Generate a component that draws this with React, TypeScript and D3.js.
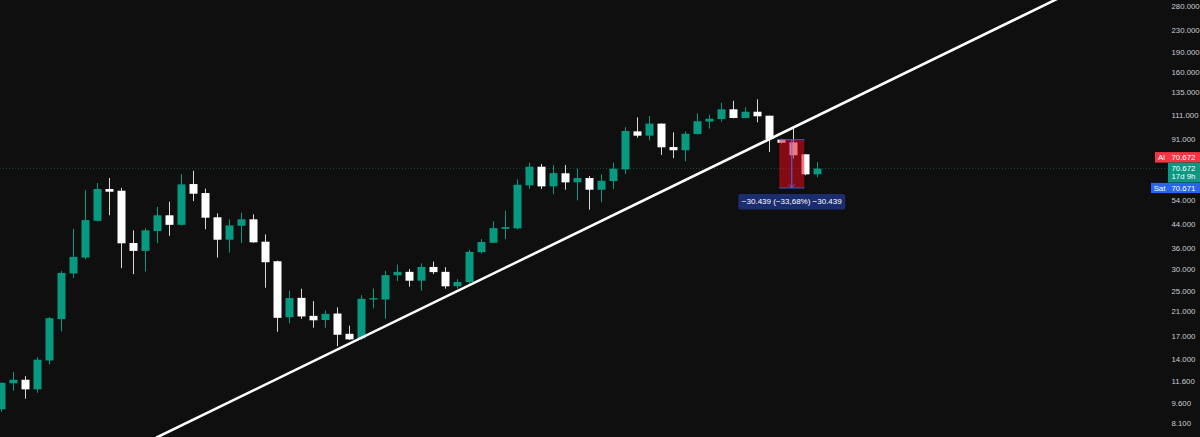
import React from 'react';
import * as d3 from 'd3';

const W = 1200;
const H = 437;

// Monthly candles (values in thousands)
const opens = [
  9.13, 11.38, 11.73, 10.81, 13.82, 19.64, 28.97, 33.16, 45.33, 59.4,
  58.55, 37.53, 35.1, 41.55, 47.5, 43.8, 61.96, 57.4, 46.7, 38.6,
  43.44, 45.9, 37.95, 32.14, 19.97, 23.54, 20.2, 19.5, 20.6, 17.34,
  16.68, 23.2, 23.2, 28.5, 29.37, 27.24, 30.62, 29.37, 25.97, 26.94,
  34.71, 37.6, 42.35, 42.5, 61.28, 71.8, 60.75, 67.9, 62.86, 65.2,
  59.05, 63.56, 70.2, 97.0, 93.5, 103.6, 84.9, 82.6, 94.8, 105.4,
  107.7, 117.0, 108.7, 114.6, 110.8, 90.4, 88.3, 79.8, 67.3,
];
const highs = [
  11.45, 12.52, 12.1, 14.2, 20.0, 29.55, 42.35, 58.75, 62.5, 65.2,
  60.0, 41.8, 42.6, 51.0, 53.3, 67.5, 69.4, 59.6, 48.3, 45.9,
  48.56, 47.9, 40.4, 32.3, 25.0, 25.45, 22.9, 21.15, 21.71, 18.58,
  24.09, 25.45, 29.62, 31.23, 30.05, 31.59, 32.03, 30.55, 27.6, 35.4,
  38.8, 45.2, 49.4, 64.5, 74.3, 73.5, 72.8, 72.8, 70.6, 66.3,
  67.3, 74.3, 100.5, 109.3, 110.5, 103.6, 96.2, 97.0, 113.0, 111.7,
  123.7, 125.8, 119.0, 127.4, 110.8, 91.0, 99.6, 79.8, 74.7,
];
const lows = [
  8.94, 10.68, 9.98, 10.5, 13.36, 17.7, 27.92, 32.7, 45.1, 47.5,
  30.3, 28.8, 29.47, 37.5, 39.9, 43.6, 53.6, 42.2, 33.16, 34.6,
  37.53, 37.6, 25.66, 17.64, 18.96, 19.69, 18.26, 18.26, 15.59, 16.45,
  16.45, 21.53, 19.69, 27.17, 25.88, 24.99, 28.8, 25.45, 25.45, 26.63,
  34.3, 37.5, 38.8, 42.15, 59.5, 59.4, 56.9, 59.05, 53.95, 49.8,
  53.05, 59.4, 67.5, 91.9, 89.9, 79.35, 77.2, 75.2, 94.5, 99.3,
  105.4, 108.4, 108.4, 104.8, 81.4, 87.6, 77.0, 66.8, 65.6,
];
const closes = [
  11.43, 11.73, 10.81, 13.91, 19.8, 29.1, 33.35, 45.6, 59.4, 58.05,
  37.43, 35.1, 41.8, 47.5, 43.8, 61.8, 57.07, 46.55, 38.6, 43.6,
  45.9, 37.75, 31.87, 19.86, 23.49, 20.1, 19.45, 20.54, 17.2, 16.54,
  23.35, 23.49, 28.56, 29.37, 27.24, 30.62, 29.3, 25.97, 26.94, 34.8,
  37.85, 42.6, 42.97, 61.6, 71.8, 60.75, 68.0, 62.86, 65.2, 59.05,
  63.7, 70.58, 97.27, 93.5, 103.6, 84.7, 82.6, 95.05, 105.7, 108.0,
  117.0, 108.7, 114.6, 110.25, 90.9, 88.0, 79.15, 67.3, 70.672,
];

const tickValues = [280, 230, 190, 160, 135, 111, 91, 54, 44, 36, 30, 25, 21, 17, 14, 11.6, 9.6, 8.1];
const tickLabels = [
  '280.000', '230.000', '190.000', '160.000', '135.000', '111.000', '91.000', '54.000', '44.000',
  '36.000', '30.000', '25.000', '21.000', '17.000', '14.000', '11.600', '9.600', '8.100',
];

const lastPrice = 70.672;
const lastPriceLabel = '70.672';
const bidPriceLabel = '70.671';
const countdownLabel = '17d 9h';
const redTagName = 'Al';
const blueTagName = 'Sat';

const trendIdx = [13, 88];
const trendPrices = [7.18, 298.5];

const measureIdx = [65, 67];
const measurePrices = [90.377, 59.938];
const measureText = '\u221230.439 (\u221233,68%) \u221230.439';

const UP = '#089981';
const DOWN = '#ffffff';
const BG = '#0f0f0f';
const FONT = '"Liberation Sans", Arial, sans-serif';

export default function App() {
  const x = d3.scaleLinear().domain([0, 68]).range([0.7, 816.7]);
  const y = d3.scaleLog().domain([8.1, 280]).range([423.3, 6.7]);

  const bw = 8;
  const candles = opens.map((o, i) => {
    const c = closes[i];
    const up = c >= o;
    const col = up ? UP : DOWN;
    const cx = Math.round(x(i));
    const top = y(Math.max(o, c));
    const bot = y(Math.min(o, c));
    return (
      <g key={i}>
        <line x1={cx + 0.5} x2={cx + 0.5} y1={y(highs[i])} y2={y(lows[i])} stroke={up ? UP : '#d8d8d8'} strokeWidth={1} />
        <rect x={cx - 3.5} y={top} width={bw} height={Math.max(1.2, bot - top)} fill={col} />
      </g>
    );
  });

  const trendPath = d3.line<number>()
    .x((_, k) => x(trendIdx[k]))
    .y((p) => y(p))(trendPrices) as string;

  const gy = y(lastPrice);
  const mx0 = x(measureIdx[0]) - 1.4;
  const mx1 = x(measureIdx[1]) - 0.4;
  const my0 = y(measurePrices[0]);
  const my1 = y(measurePrices[1]);
  const mcx = (mx0 + mx1) / 2;

  const axisX = 1171.5;
  const tagX = 1168;
  const fs = 7.8;

  return (
    <svg
      width={W}
      height={H}
      style={{ position: 'absolute', left: 0, top: 0, display: 'block' }}
      fontFamily={FONT}
    >
      <defs>
        <clipPath id="plot">
          <rect x={0} y={0} width={1168} height={H} />
        </clipPath>
      </defs>
      <rect x={0} y={0} width={W} height={H} fill={BG} />

      {/* last price dotted line */}
      <line x1={0} x2={1168} y1={gy} y2={gy} stroke="#167a63" strokeOpacity={0.55} strokeWidth={1} strokeDasharray="1 2" />

      <g clipPath="url(#plot)">
        {candles}
        <path d={trendPath} stroke="#ffffff" strokeWidth={2.6} fill="none" strokeLinecap="round" />

        {/* price range measurement */}
        <rect x={mx0} y={my0} width={mx1 - mx0} height={my1 - my0} fill="rgb(230,10,25)" fillOpacity={0.55} />
        <line x1={mx0} x2={mx1} y1={my0} y2={my0} stroke="#3b5bdb" strokeWidth={1} />
        <line x1={mx0} x2={mx1} y1={my1} y2={my1} stroke="#3b5bdb" strokeWidth={1} />
        <line x1={mcx} x2={mcx} y1={my0} y2={my1 - 0.5} stroke="#4c6ef5" strokeWidth={1} />
        <path d={`M${mcx - 3},${my1 - 3.5} L${mcx},${my1 - 0.5} L${mcx + 3},${my1 - 3.5}`} stroke="#4c6ef5" strokeWidth={1} fill="none" />
        <rect x={mcx - 53.5} y={my1 + 6} width={107} height={15.5} rx={2.5} fill="#1b2d6e" />
        <text x={mcx} y={my1 + 13.9} textAnchor="middle" dominantBaseline="central" fill="#ffffff" fontSize={8}>
          {measureText}
        </text>
      </g>

      {/* price axis labels */}
      {tickValues.map((v, k) => (
        <text key={k} x={axisX} y={y(v)} dy="0.35em" fill="#c9ccd2" fontSize={fs}>
          {tickLabels[k]}
        </text>
      ))}

      {/* price tags */}
      <rect x={tagX - 13} y={gy - 16.5} width={13} height={10.5} fill="#f23645" />
      <text x={tagX - 6.5} y={gy - 11.2} dy="0.35em" textAnchor="middle" fill="#fff" fontSize={fs}>{redTagName}</text>
      <rect x={tagX} y={gy - 16.5} width={W - tagX} height={10.5} fill="#f23645" />
      <text x={axisX} y={gy - 11.2} dy="0.35em" fill="#fff" fontSize={fs}>{lastPriceLabel}</text>

      <rect x={tagX} y={gy - 6} width={W - tagX} height={20} fill={UP} />
      <text x={axisX} y={gy - 0.8} dy="0.35em" fill="#fff" fontSize={fs}>{lastPriceLabel}</text>
      <text x={axisX} y={gy + 7.8} dy="0.35em" fill="#fff" fontSize={fs}>{countdownLabel}</text>

      <rect x={tagX - 17} y={gy + 14.3} width={17} height={10.2} fill="#2962ff" />
      <text x={tagX - 8.5} y={gy + 19.4} dy="0.35em" textAnchor="middle" fill="#fff" fontSize={fs}>{blueTagName}</text>
      <rect x={tagX} y={gy + 14.3} width={W - tagX} height={10.2} fill="#2962ff" />
      <text x={axisX} y={gy + 19.4} dy="0.35em" fill="#fff" fontSize={fs}>{bidPriceLabel}</text>
    </svg>
  );
}
